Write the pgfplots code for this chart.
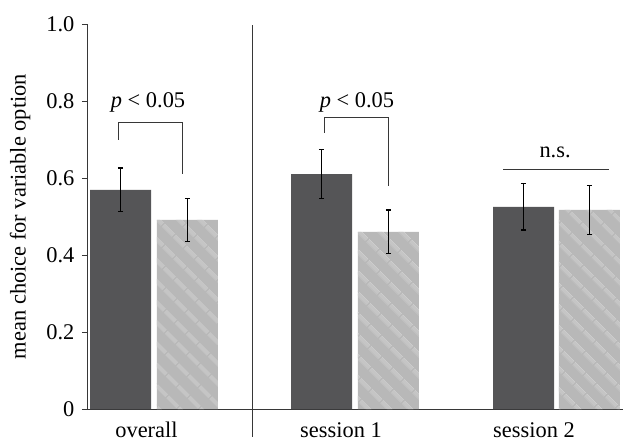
\documentclass[border=0pt]{standalone}
\usepackage{fontspec}
\setmainfont{Liberation Serif}
\usepackage{pgfplots}
\pgfplotsset{compat=1.18}
\usetikzlibrary{patterns.meta}
\definecolor{darkbar}{RGB}{85,85,87}
\definecolor{lightbar}{RGB}{184,184,184}
\definecolor{stripe}{RGB}{197,197,197}
\definecolor{axisgray}{RGB}{55,55,55}
\begin{document}
\fontsize{22.5}{27}\selectfont
\begin{tikzpicture}
\begin{axis}[name=ax, scale only axis, width=536bp, height=385bp,
  xmin=-0.33582, xmax=2.33085, ymin=0, ymax=1,
  axis lines*=left,
  ytick={0,0.2,0.4,0.6,0.8,1}, yticklabels={0,0.2,0.4,0.6,0.8,1.0},
  xtick={-0.04,0.928,1.888}, xticklabels={overall,session 1,session 2},
  tick align=outside, major tick length=5bp,
  x tick style={draw=none},
  y tick style={axisgray, line width=0.8bp},
  axis line style={axisgray, line width=0.8bp},
  ylabel={mean choice for variable option},
  ylabel style={at={(axis description cs:-0.125,0.5)}, anchor=center},
  xticklabel style={anchor=base, yshift=-23bp},
  /pgf/number format/assume math mode=true,
  every tick label/.append style={font=\fontsize{22.5}{27}\selectfont},
  label style={font=\fontsize{22.5}{27}\selectfont},
  clip=false,
  error bars/error bar style={draw=black, line width=1.1bp},
  error bars/error mark options={rotate=90, mark size=2.6bp, draw=black, line width=1.1bp},
]
\addplot[ybar, bar width=0.3035, bar shift=0pt, fill=darkbar, draw=none,
  error bars/.cd, y dir=both, y explicit]
  coordinates {(-0.169,0.569) +- (0,0.057) (0.831,0.610) +- (0,0.063) (1.836,0.525) +- (0,0.060)};
\addplot[ybar, bar width=0.3035, bar shift=0pt, fill=lightbar, draw=none,
  postaction={pattern={Lines[angle=-45, distance=15bp, line width=4bp]}, pattern color=stripe},
  error bars/.cd, y dir=both, y explicit]
  coordinates {(0.164,0.491) +- (0,0.056) (1.164,0.460) +- (0,0.057) (2.164,0.517) +- (0,0.063)};
% divider
\draw[axisgray, line width=0.8bp] (axis cs:0.485,0.997) -- (axis cs:0.485,-0.0727);
% brackets
\draw[axisgray, line width=0.9bp] (axis cs:-0.1816,0.699) -- (axis cs:-0.1816,0.743) -- (axis cs:0.1368,0.743) -- (axis cs:0.1368,0.610);
\draw[axisgray, line width=0.9bp] (axis cs:0.848,0.717) -- (axis cs:0.848,0.758) -- (axis cs:1.162,0.758) -- (axis cs:1.162,0.579);
\draw[axisgray, line width=0.9bp] (axis cs:1.734,0.623) -- (axis cs:2.261,0.623);
\node[anchor=base, font=\fontsize{22.5}{27}\selectfont] at (axis cs:-0.032,0.782) {\textit{p} < 0.05};
\node[anchor=base, font=\fontsize{22.5}{27}\selectfont] at (axis cs:1.0075,0.784) {\textit{p} < 0.05};
\node[anchor=base, font=\fontsize{22.5}{27}\selectfont] at (axis cs:1.993,0.6545) {n.s.};
\end{axis}
\pgfresetboundingbox
\path ([shift={(-87bp,-32bp)}]ax.south west) rectangle ([shift={(0bp,24bp)}]ax.north east);
\end{tikzpicture}
\end{document}
